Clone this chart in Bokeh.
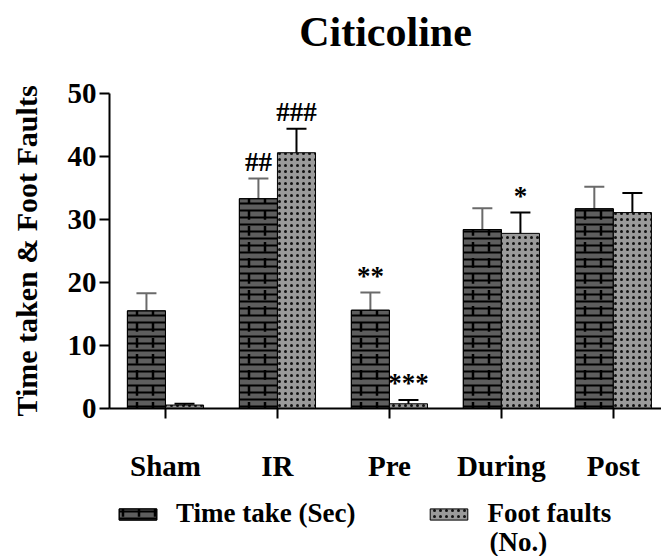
from bokeh.plotting import figure
from bokeh.layouts import column
from bokeh.models import (ColumnDataSource, Range1d, FixedTicker, Whisker, TeeHead,
                          Legend, LegendItem, LabelSet, Label)
from bokeh.transform import dodge
from bokeh.embed import file_html
from bokeh.resources import INLINE

# Data
groups = ["Sham", "IR", "Pre", "During", "Post"]
time_taken = [15.5, 33.3, 15.6, 28.4, 31.7]
time_sem = [2.8, 3.2, 2.8, 3.4, 3.5]
foot_faults = [0.55, 40.6, 0.75, 27.8, 31.1]
foot_sem = [0.2, 3.8, 0.6, 3.3, 3.1]
time_marks = ["", "##", "**", "", ""]
foot_marks = ["", "###", "***", "*", ""]
y_ticks = [0, 10, 20, 30, 40, 50]
series_labels = ["Time take (Sec)", "Foot faults"]
foot_unit = "(No.)"

FONT = "Liberation Serif"
pos = list(range(len(groups)))

src = ColumnDataSource(dict(
    pos=pos,
    time=time_taken,
    time_lo=[m - s for m, s in zip(time_taken, time_sem)],
    time_hi=[m + s for m, s in zip(time_taken, time_sem)],
    foot=foot_faults,
    foot_lo=[m - s for m, s in zip(foot_faults, foot_sem)],
    foot_hi=[m + s for m, s in zip(foot_faults, foot_sem)],
    time_mark=time_marks,
    foot_mark=foot_marks,
))

TITLE_H = 66
MAIN_H = 422
LEG_H = 556 - TITLE_H - MAIN_H

# Title strip
head = figure(width=661, height=TITLE_H, output_backend="svg", toolbar_location=None,
              x_axis_type=None, y_axis_type=None, min_border=0)
head.outline_line_color = None
head.title.text = "Citicoline"
head.title.align = "center"
head.title.vertical_align = "bottom"
head.title.text_font = FONT
head.title.text_font_size = "42px"
head.title.text_font_style = "bold"
head.title.text_color = "black"
head.title.standoff = 12

# Main chart
p = figure(width=661, height=MAIN_H, output_backend="svg", toolbar_location=None,
           x_range=Range1d(-0.5, 4.43), y_range=Range1d(0, 50),
           min_border_left=109, min_border_right=0, min_border_top=27,
           min_border_bottom=80)
p.title.visible = False
p.outline_line_color = None
p.xgrid.visible = False
p.ygrid.visible = False
p.background_fill_color = "white"

W = 0.34
OFF = 0.17

TIME_STYLE = dict(fill_color="#5e5e5e", line_color="black", line_width=1,
                  hatch_pattern="horizontal_line", hatch_scale=7, hatch_weight=2,
                  hatch_color="black")
JOINT_STYLE = dict(fill_alpha=0, line_color="black", line_width=1,
                   hatch_pattern="vertical_dash", hatch_scale=16, hatch_weight=2.5,
                   hatch_color="black")
FOOT_STYLE = dict(fill_color="#9a9a9a", line_color="black", line_width=1,
                  hatch_pattern="dot", hatch_scale=6, hatch_weight=1.5,
                  hatch_color="#111111")

# Time bars: grey brickwork (courses + joints); foot-fault bars: grey speckle
p.vbar(x=dodge("pos", -OFF, range=p.x_range), top="time", width=W, source=src, **TIME_STYLE)
p.vbar(x=dodge("pos", -OFF, range=p.x_range), top="time", width=W, source=src, **JOINT_STYLE)
p.vbar(x=dodge("pos", OFF, range=p.x_range), top="foot", width=W, source=src, **FOOT_STYLE)

# Error bars
time_err = Whisker(base=dodge("pos", -OFF, range=p.x_range), lower="time_lo", upper="time_hi",
                   source=src, line_color="#6a6a6a", line_width=2,
                   upper_head=TeeHead(size=20, line_color="#6a6a6a", line_width=2),
                   lower_head=TeeHead(size=20, line_color="#6a6a6a", line_width=2))
foot_err = Whisker(base=dodge("pos", OFF, range=p.x_range), lower="foot_lo", upper="foot_hi",
                   source=src, line_color="black", line_width=2,
                   upper_head=TeeHead(size=20, line_color="black", line_width=2),
                   lower_head=TeeHead(size=20, line_color="black", line_width=2))
p.add_layout(time_err)
p.add_layout(foot_err)

# Significance marks above the error bars
for col, hi, off in (("time_mark", "time_hi", -OFF), ("foot_mark", "foot_hi", OFF)):
    p.add_layout(LabelSet(x=dodge("pos", off, range=p.x_range), y=hi, text=col, source=src,
                          y_offset=2, text_align="center", text_baseline="bottom",
                          text_font=FONT, text_font_size="27px", text_font_style="bold",
                          text_color="black"))

# Axes
for ax in (p.xaxis, p.yaxis):
    ax.major_label_text_font = FONT
    ax.major_label_text_font_style = "bold"
    ax.major_label_text_color = "black"
    ax.major_tick_out = 10
    ax.major_tick_in = 0
    ax.minor_tick_line_color = None
    ax.axis_line_width = 2
    ax.axis_line_color = "black"
    ax.major_tick_line_width = 2
    ax.major_tick_line_color = "black"

p.yaxis.ticker = FixedTicker(ticks=y_ticks)
p.yaxis.major_label_text_font_size = "29px"
p.yaxis.axis_label = "Time taken & Foot Faults"
p.yaxis.axis_label_text_font = FONT
p.yaxis.axis_label_text_font_size = "30px"
p.yaxis.axis_label_text_font_style = "bold"
p.yaxis.axis_label_text_color = "black"
p.yaxis.axis_label_standoff = 22
p.yaxis.major_label_standoff = 3

p.xaxis.ticker = FixedTicker(ticks=pos)
p.xaxis.major_label_overrides = {i: g for i, g in zip(pos, groups)}
p.xaxis.major_label_text_font_size = "29px"
p.xaxis.major_label_standoff = 31

# Legend strip under the chart, keyed by the same bar styles
leg = figure(width=661, height=LEG_H, output_backend="svg", toolbar_location=None,
             x_range=Range1d(10, 11), y_range=Range1d(100, 101),
             x_axis_type=None, y_axis_type=None, min_border=0)
leg.outline_line_color = None
k_time = leg.vbar(x="pos", top="time", width=W, source=src, **TIME_STYLE)
k_joint = leg.vbar(x="pos", top="time", width=W, source=src, **JOINT_STYLE)
k_foot = leg.vbar(x="pos", top="foot", width=W, source=src, **FOOT_STYLE)

legend = Legend(items=[LegendItem(label=series_labels[0], renderers=[k_time, k_joint]),
                       LegendItem(label=series_labels[1], renderers=[k_foot])],
                orientation="horizontal", location=(5, 27),
                label_text_font=FONT, label_text_font_size="27px",
                label_text_font_style="bold", label_text_color="black",
                glyph_width=47, glyph_height=14,
                label_standoff=15, spacing=70, padding=0, margin=0,
                border_line_color=None, background_fill_alpha=0)
leg.add_layout(legend, "center")

# Second line of the foot-fault legend entry
leg.add_layout(Label(x=380, y=15, x_units="screen", y_units="screen", text=foot_unit,
                     text_align="left", text_baseline="middle",
                     text_font=FONT, text_font_size="27px", text_font_style="bold",
                     text_color="black"))

page = column(head, p, leg, spacing=0)
open("out.html", "w").write(file_html(page, INLINE))
